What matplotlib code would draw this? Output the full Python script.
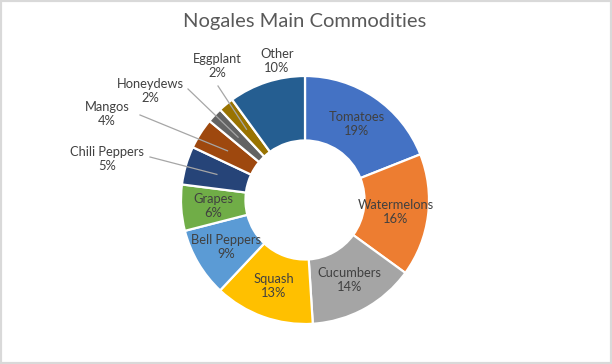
import math

import matplotlib
matplotlib.use("Agg")
import matplotlib.pyplot as plt
from matplotlib.patches import Rectangle

# ── data ───────────────────────────────────────────────────────────────────────
commodities = ["Tomatoes", "Watermelons", "Cucumbers", "Squash", "Bell Peppers",
               "Grapes", "Chili Peppers", "Mangos", "Honeydews", "Eggplant", "Other"]
shares = [19, 16, 14, 13, 9, 6, 5, 4, 2, 2, 10]
colors = ["#4472C4", "#ED7D31", "#A5A5A5", "#FFC000", "#5B9BD5", "#70AD47",
          "#264478", "#9E480E", "#636363", "#997300", "#255E91"]
title = "Nogales Main Commodities"

# labels placed outside the ring (pixel positions: text centre, leader start)
outside = {
    "Chili Peppers": ((107, 159), (150, 157)),
    "Mangos":        ((107, 114), (140, 115)),
    "Honeydews":     ((150, 91),  (188, 89)),
    "Eggplant":      ((217, 66),  (218, 86)),
    "Other":         ((277, 61),  None),
}

W, H = 612, 364
CX, CY, R = 305, 200, 124
HOLE = 0.48
TXT = "#404040"
FS = 9.3

plt.rcParams["font.family"] = ["Lato", "DejaVu Sans"]

fig = plt.figure(figsize=(W / 100, H / 100), dpi=100)
ax = fig.add_axes([0, 0, 1, 1])
ax.axis("off")

def py(y):  # pixel row -> data y
    return H - y

ax.pie(shares, colors=colors, startangle=90, counterclock=False,
       radius=R, center=(CX, py(CY)),
       wedgeprops=dict(width=R * (1 - HOLE), edgecolor="white", linewidth=1.6))
ax.set_xlim(0, W)
ax.set_ylim(0, H)
ax.set_aspect("equal")

rmid = R * (1 + HOLE) / 2
total = sum(shares)
cum = 0
for name, v in zip(commodities, shares):
    mid = (cum + v / 2) / total
    cum += v
    ang = math.radians(90 - 360 * mid)
    mx, my = CX + rmid * math.cos(ang), py(CY) + rmid * math.sin(ang)
    lab = f"{name}\n{v}%"
    if name in outside:
        (tx, ty), start = outside[name]
        ax.text(tx, py(ty), lab, ha="center", va="center", fontsize=FS,
                color=TXT, linespacing=1.2)
        if start is not None:
            ax.plot([start[0], mx], [py(start[1]), my], color="#A6A6A6", lw=0.9)
    else:
        ax.text(mx, my, lab, ha="center", va="center", fontsize=FS,
                color=TXT, linespacing=1.2)

ax.text(305, py(22), title, ha="center", va="center", fontsize=14.5, color="#595959")

fig.patches.append(Rectangle((0, 0), 1, 1, transform=fig.transFigure, fill=False,
                             edgecolor="#D9D9D9", linewidth=3))

fig.savefig("out.png", dpi=100)
